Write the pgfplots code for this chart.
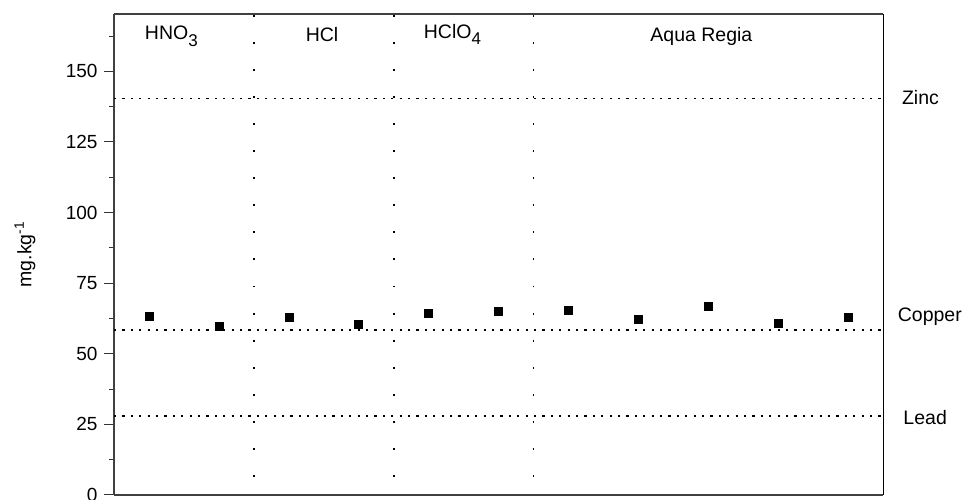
\documentclass[border=0pt]{standalone}
\usepackage{fontspec}
\setmainfont{Liberation Sans}
\usepackage{pgfplots}
\pgfplotsset{compat=1.18}

% Digestion results: one measurement per replicate (mg/kg)
\pgfplotstableread{
k   val
0   63.4
1   59.8
2   63.0
3   60.4
4   64.4
5   65.2
6   65.5
7   62.1
8   66.9
9   60.7
10  63.1
}\digest

% large, lowered subscript as in the chemical formulas
\newcommand{\sub}[1]{\raisebox{-0.32em}{\fontsize{17}{18}\selectfont #1}}

\begin{document}
\begin{tikzpicture}[lbl/.style={font=\fontsize{19.5}{21}\selectfont, inner sep=0pt}]
\begin{axis}[
  scale only axis,
  width=769pt, height=481pt,
  xmin=-0.5, xmax=10.5,
  ymin=0, ymax=170.3,
  axis line style={draw=black!75, line width=1.2pt},
  axis x line*=bottom, axis y line*=left,
  xtick=\empty,
  ytick={0,25,50,75,100,125,150},
  minor ytick={12.5,37.5,62.5,87.5,112.5,137.5,162.5},
  tick align=outside,
  major tick length=10pt,
  minor tick length=5pt,
  every tick/.style={black!80, line width=1pt},
  /pgf/number format/assume math mode=true,
  tick label style={font=\fontsize{19}{21}\selectfont},
  yticklabel style={xshift=-3pt},
  ylabel={mg.kg\textsuperscript{-1}},
  ylabel style={font=\fontsize{19.5}{21}\selectfont, at={(axis description cs:-0.1157,0.5)}, anchor=center},
  clip=false,
]
% outer box top and right edges
\draw[black!75, line width=1.2pt] (rel axis cs:0,1) -- (rel axis cs:1,1);
\draw[black, line width=1pt] (rel axis cs:1,1) -- (rel axis cs:1,0);

% reference levels
\addplot[black, line width=1.7pt, dash pattern=on 2.2pt off 6.2pt, forget plot] coordinates {(-0.5,140.4) (10.5,140.4)};
\addplot[black, line width=1.7pt, dash pattern=on 2.2pt off 6.2pt, forget plot] coordinates {(-0.5,58.5) (10.5,58.5)};
\addplot[black, line width=1.7pt, dash pattern=on 2.2pt off 6.2pt, forget plot] coordinates {(-0.5,28.0) (10.5,28.0)};

% acid group separators
\addplot[black, line width=1.9pt, dash pattern=on 1.9pt off 25.17pt, forget plot] coordinates {(1.5,170) (1.5,0)};
\addplot[black, line width=1.9pt, dash pattern=on 1.9pt off 25.17pt, forget plot] coordinates {(3.5,170) (3.5,0)};
\addplot[black, line width=1.9pt, dash pattern=on 1.9pt off 25.17pt, forget plot] coordinates {(5.5,170) (5.5,0)};

% measurements
\addplot[only marks, mark=square*, mark size=4pt, mark options={fill=black, draw=black}] table[x=k, y=val] {\digest};

% group and level labels
\node[lbl, anchor=base west] at (axis cs:-0.06,161.1) {HNO\sub{3}};
\node[lbl, anchor=base west] at (axis cs:2.24,160.4) {HCl};
\node[lbl, anchor=base west] at (axis cs:3.93,161.8) {HClO\sub{4}};
\node[lbl, anchor=base west] at (axis cs:7.17,160.4) {Aqua Regia};
\node[lbl, anchor=west] at (axis cs:10.77,140.6) {Zinc};
\node[lbl, anchor=west] at (axis cs:10.71,63.0) {Copper};
\node[lbl, anchor=west] at (axis cs:10.79,27.6) {Lead};

\coordinate (ll) at (rel axis cs:0,0);
\coordinate (ur) at (rel axis cs:1,1);
\end{axis}
\pgfresetboundingbox
\path[use as bounding box] ([shift={(-114pt,-5pt)}]ll) rectangle ([shift={(86pt,14pt)}]ur);
\end{tikzpicture}
\end{document}
